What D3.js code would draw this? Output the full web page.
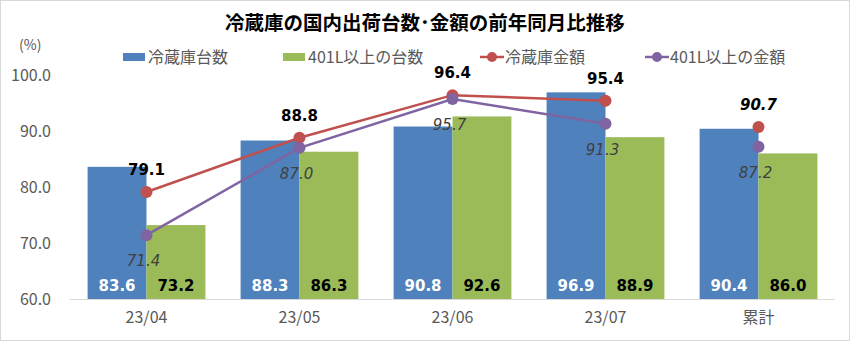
<!DOCTYPE html>
<html><head><meta charset="utf-8">
<script src="https://cdn.jsdelivr.net/npm/d3@7"></script>
<style>body{margin:0;background:#fff}svg{display:block}</style>
</head><body><div id="c"></div>
<script>
const categories = ["23/04","23/05","23/06","23/07","累計"];
const unitsAll = [83.6, 88.3, 90.8, 96.9, 90.4];
const units401 = [73.2, 86.3, 92.6, 88.9, 86.0];
const valueAll = [79.1, 88.8, 96.4, 95.4, 90.7];
const value401 = [71.4, 87.0, 95.7, 91.3, 87.2];
const yTicks = [60, 70, 80, 90, 100];
const seriesNames = ["冷蔵庫台数","401L以上の台数","冷蔵庫金額","401L以上の金額"];
const colors = ["#4f81bd","#9bbb59","#c0504d","#8064a2"];

const W=850,H=342;
const svg=d3.select("#c").append("svg").attr("width",W).attr("height",H);
svg.append("rect").attr("x",0.5).attr("y",0.5).attr("width",W-1).attr("height",H-2).attr("fill","#fff").attr("stroke","#d9d9d9");
const jp="'Noto Sans CJK JP','Noto Sans',sans-serif";
const num="'DejaVu Sans',Verdana,sans-serif";

svg.append("text").attr("x",425).attr("y",30).attr("text-anchor","middle").attr("font-family",jp).attr("font-weight","bold").attr("font-size",19.5).attr("fill","#000").text("冷蔵庫の国内出荷台数･金額の前年同月比推移");
svg.append("text").attr("x",19).attr("y",50).attr("font-family",jp).attr("font-size",14).attr("fill","#595959").text("(%)");

const x=d3.scaleBand().domain(categories).range([70,835]).paddingInner(0.23).paddingOuter(0.115);
const y=d3.scaleLinear().domain([60,100]).range([299,75]);
const xs=d3.scaleBand().domain([0,1]).range([0,x.bandwidth()]);

// y axis
const ya=svg.append("g").attr("transform","translate(51,0)").call(d3.axisLeft(y).tickValues(yTicks).tickFormat(d3.format(".1f")).tickSize(0).tickPadding(0));
ya.select(".domain").remove();
ya.selectAll("text").attr("font-family",jp).attr("font-size",16).attr("fill","#595959");
// baseline
svg.append("line").attr("x1",70).attr("x2",835).attr("y1",y(60)+0.5).attr("y2",y(60)+0.5).attr("stroke","#d9d9d9");
// x axis labels
const xa=svg.append("g").attr("transform",`translate(0,${y(60)})`).call(d3.axisBottom(x).tickSize(0).tickPadding(13));
xa.select(".domain").remove();
xa.selectAll("text").attr("font-family",jp).attr("font-size",16).attr("fill","#595959");

const cx=c=>x(c)+x.bandwidth()/2;
// bars
[unitsAll,units401].forEach((arr,si)=>{
  const g=svg.append("g");
  g.selectAll("rect").data(arr).join("rect")
    .attr("x",(d,i)=>x(categories[i])+xs(si)).attr("width",xs.bandwidth())
    .attr("y",d=>y(d)).attr("height",d=>y(60)-y(d)).attr("fill",colors[si]);
  g.selectAll("text").data(arr).join("text")
    .attr("x",(d,i)=>x(categories[i])+xs(si)+xs.bandwidth()/2).attr("y",291)
    .attr("text-anchor","middle").attr("font-family",num).attr("font-weight","bold").attr("font-size",15)
    .attr("fill",si===0?"#fff":"#000").text(d=>d.toFixed(1));
});
// lines
const line=d3.line().x((d,i)=>cx(categories[i])).y(d=>y(d));
[valueAll,value401].forEach((arr,k)=>{
  const col=colors[2+k];
  svg.append("path").datum(arr.slice(0,4)).attr("d",line).attr("fill","none").attr("stroke",col).attr("stroke-width",2.5);
  svg.append("g").selectAll("circle").data(arr).join("circle")
    .attr("cx",(d,i)=>cx(categories[i])).attr("cy",d=>y(d)).attr("r",6).attr("fill",col);
});
// line labels
svg.append("g").selectAll("text").data(valueAll).join("text")
  .attr("x",(d,i)=>cx(categories[i])).attr("y",d=>y(d)-17)
  .attr("text-anchor","middle").attr("font-family",num).attr("font-weight","bold").attr("font-size",15)
  .attr("font-style",(d,i)=>i===4?"italic":"normal").attr("fill","#000").text(d=>d.toFixed(1));
svg.append("g").selectAll("text").data(value401).join("text")
  .attr("x",(d,i)=>cx(categories[i])-3).attr("y",d=>y(d)+31)
  .attr("text-anchor","middle").attr("font-family",num).attr("font-style","italic").attr("font-size",15)
  .attr("fill","#404040").text(d=>d.toFixed(1));

// legend
const leg=[{x:123,t:"rect"},{x:283,t:"rect"},{x:480,t:"line"},{x:645,t:"line"}];
leg.forEach((l,i)=>{
  const g=svg.append("g").attr("transform",`translate(${l.x},57)`);
  if(l.t==="rect") g.append("rect").attr("x",0).attr("y",-4).attr("width",22).attr("height",8).attr("fill",colors[i]);
  else { g.append("line").attr("x1",0).attr("x2",24).attr("stroke",colors[i]).attr("stroke-width",2.5); g.append("circle").attr("cx",12).attr("r",5).attr("fill",colors[i]); }
  g.append("text").attr("x",25).attr("y",6).attr("font-family",jp).attr("font-size",16).attr("fill","#595959").text(seriesNames[i]);
});
</script></body></html>
